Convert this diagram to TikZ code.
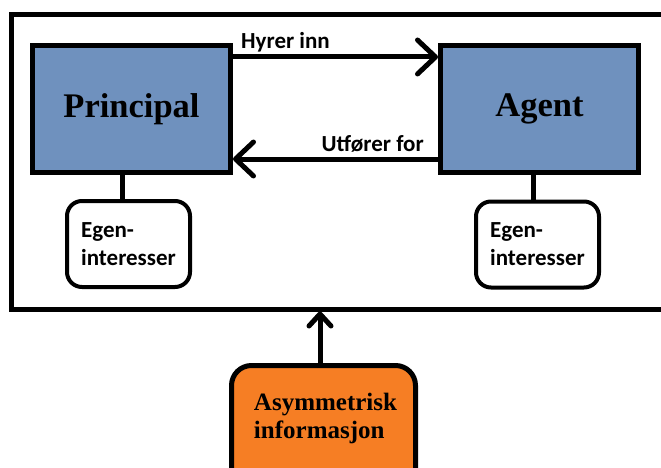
\documentclass[tikz,border=0pt]{standalone}
\usepackage{fontspec}
\setmainfont{Liberation Serif}
\newfontfamily\calibri{Carlito}
\usetikzlibrary{arrows.meta}
\definecolor{boxblue}{RGB}{111,145,190}
\definecolor{infoorange}{RGB}{246,126,36}

\begin{document}
\begin{tikzpicture}[x=1pt,y=-1pt,
  frameline/.style={draw, line width=5pt},
  mainbox/.style={draw, line width=5pt, fill=boxblue, minimum width=198pt,
    minimum height=127pt, inner sep=0pt,
    font=\bfseries\fontsize{34.5}{40}\selectfont},
  selfbox/.style={draw, line width=4pt, rounded corners=15pt, fill=white,
    minimum width=123pt, minimum height=86pt, inner sep=0pt, align=left,
    font=\calibri\bfseries\fontsize{23}{28}\selectfont},
  infobox/.style={draw, line width=5pt, rounded corners=20pt, fill=infoorange,
    minimum width=184pt, minimum height=140pt, inner sep=0pt},
  flowlabel/.style={inner sep=0pt, font=\calibri\bfseries\fontsize{23}{28}\selectfont},
  flow/.style={line width=5pt, -{Straight Barb[length=18pt,width=34pt,round]}},
  rise/.style={line width=5pt, -{Straight Barb[length=12pt,width=22pt,round]}},
  tie/.style={line width=5pt}
]
\useasboundingbox (0,0) rectangle (661,468);
\clip (0,0) rectangle (661,468);

% outer system frame (runs past the right edge)
\node[frameline, minimum width=679pt, minimum height=294pt] (frame) at (350.5,162) {};

% principal and agent
\node[mainbox] (principal) at (131.5,109) {Principal};
\node[mainbox] (agent) at (539.5,109) {Agent};

% self-interest boxes
\node[selfbox] (selfp) at (128.5,244) {Egen-\\interesser};
\node[selfbox] (selfa) at (537.5,244.5) {Egen-\\interesser};

\draw[tie] ([xshift=-9.5pt]principal.south) -- ([xshift=-9.5pt]principal.south |- selfp.north);
\draw[tie] ([xshift=-6.5pt]agent.south) -- ([xshift=-6.5pt]agent.south |- selfa.north);

% relations between principal and agent
\draw[flow] ([yshift=-14pt]principal.north east) -- ([yshift=-14pt]agent.north west);
\draw[flow] ([yshift=16pt]agent.south west) -- ([yshift=16pt]principal.south east);
\node[flowlabel, anchor=base west] (hire) at (241,49) {Hyrer inn};
\node[flowlabel, anchor=base east] (serve) at (424,152) {Utfører for};

% asymmetric information acting on the system
\node[infobox] (info) at (323.5,435.5) {};
\node[inner sep=0pt, align=left, font=\bfseries\fontsize{25}{28}\selectfont] (infotext) at (325.5,418) {Asymmetrisk\\informasjon};
\draw[rise] ([xshift=-3.5pt]info.north) -- ([xshift=-3.5pt]info.north |- frame.south);
\end{tikzpicture}
\end{document}
